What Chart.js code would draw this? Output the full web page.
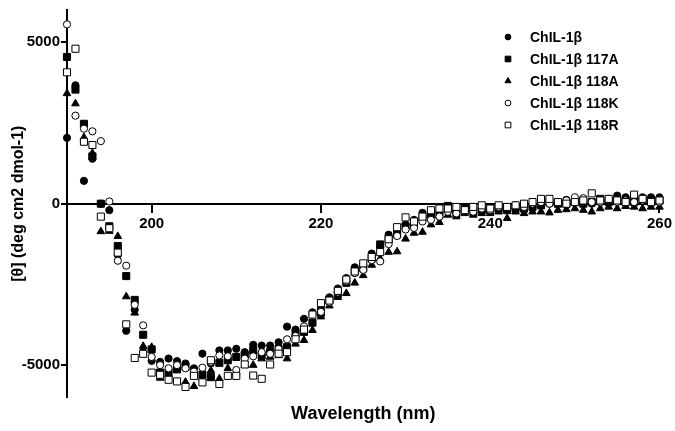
<!DOCTYPE html>
<html>
<head>
<meta charset="utf-8">
<script src="https://cdn.jsdelivr.net/npm/chart.js@4.4.1/dist/chart.umd.min.js"></script>
<style>
  body { margin: 0; background: #fff; }
  #wrap { width: 675px; height: 431px; }
</style>
</head>
<body>
<div id="wrap"><canvas id="cdChart"></canvas></div>
<script>
const wavelengths = [190, 191, 192, 193, 194, 195, 196, 197, 198, 199,
  200, 201, 202, 203, 204, 205, 206, 207, 208, 209,
  210, 211, 212, 213, 214, 215, 216, 217, 218, 219,
  220, 221, 222, 223, 224, 225, 226, 227, 228, 229,
  230, 231, 232, 233, 234, 235, 236, 237, 238, 239,
  240, 241, 242, 243, 244, 245, 246, 247, 248, 249,
  250, 251, 252, 253, 254, 255, 256, 257, 258, 259, 260];

const chil1b = [2040, 3666, 707, 1394, 0, -200, -1585, -3939, -3282, -4600,
  -4868, -4900, -4797, -4878, -4950, -5100, -4646, -4950, -4545, -4545,
  -4494, -4600, -4373, -4393, -4393, -4292, -3808, -3900, -3565, -3363,
  -3250, -2900, -2626, -2303, -1970, -1900, -1545, -1350, -960, -850,
  -650, -500, -283, -300, -250, -150, -250, -200, -100, -250,
  -200, -150, -150, -150, -100, -100, -50, 0, 50, 120,
  100, 50, 0, 50, 100, 250, 200, 150, 200, 200, 200];

const chil117A = [4545, 3535, 2475, 1465, 0, -700, -1313, -2242, -2980, -4060,
  -4515, -5230, -5232, -5131, -5050, -5270, -5300, -5373, -4929, -4850,
  -4747, -4697, -4550, -4697, -4595, -4500, -4444, -4020, -3970, -3686,
  -3380, -2980, -2800, -2450, -2100, -2000, -1700, -1262, -1100, -950,
  -700, -606, -450, -330, -350, -70, -300, -150, -250, -200,
  -200, -150, -200, -150, -150, -100, -50, 50, 0, 0,
  50, 0, 50, 150, 50, 100, 100, 50, 100, 100, 100];

const chil118A = [3414, 3100, 2050, 1565, -860, -850, -1010, -2878, -3383, -4414,
  -4444, -5400, -5300, -5150, -5525, -5656, -5400, -5170, -5424, -5100,
  -5232, -5000, -5000, -4800, -4750, -4700, -4800, -4343, -4230, -3919,
  -3500, -3161, -2900, -2777, -2454, -2222, -1900, -1700, -1500, -1485,
  -1090, -909, -879, -650, -576, -350, -400, -300, -350, -300,
  -300, -250, -454, -250, -300, -250, -250, -280, -200, -180,
  -150, -200, -250, -150, -100, -150, -80, -100, -150, -100, -100];

const chil118K = [5555, 2727, 2323, 2242, 1939, 70, -1767, -1919, -3131, -3767,
  -4747, -5000, -5100, -5000, -5100, -5200, -5080, -4900, -4700, -4727,
  -5151, -4800, -4727, -4600, -4650, -4500, -4200, -4100, -3800, -3434,
  -3350, -3050, -2750, -2400, -2150, -2050, -1750, -1788, -1250, -1000,
  -800, -750, -550, -500, -400, -250, -300, -200, -250, -150,
  -200, -100, -100, -50, -100, 0, 50, 0, 50, 100,
  200, 170, 50, 50, 150, 50, 100, 50, 100, 50, 50];

const chil118R = [4070, 4800, 1919, 1818, -400, -760, -1515, -3737, -4777, -4650,
  -5232, -5300, -5454, -5505, -5676, -5333, -5535, -4848, -5585, -5333,
  -5333, -4980, -5323, -5424, -4980, -4646, -4600, -4200, -3900, -3434,
  -3080, -3000, -2700, -2350, -2100, -1848, -1650, -1500, -1100, -727,
  -424, -550, -400, -202, -150, -150, -100, -200, -100, -50,
  -150, -50, -100, -50, 0, 50, 150, 150, 50, 0,
  50, 100, 320, 100, 150, 100, 50, 280, 150, 50, 100];

const seriesNames = ['ChIL-1\u03b2', 'ChIL-1\u03b2 117A', 'ChIL-1\u03b2 118A', 'ChIL-1\u03b2 118K', 'ChIL-1\u03b2 118R'];
const seriesValues = [chil1b, chil117A, chil118A, chil118K, chil118R];
const xTicks = [200, 220, 240, 260];
const yTicks = [-5000, 0, 5000];

const FONT = '"Liberation Sans", Arial, sans-serif';

// marker look for each series: filled circle, filled square, filled triangle, open circle, open square
const markers = [
  { style: 'circle', radius: 3.6, fill: '#000' },
  { style: 'rect', radius: 5, fill: '#000' },
  { style: 'triangle', radius: 4.4, fill: '#000' },
  { style: 'circle', radius: 3.6, fill: '#fff' },
  { style: 'rect', radius: 5, fill: '#fff' }
];

const datasets = seriesValues.map((vals, i) => ({
  label: seriesNames[i],
  data: wavelengths.map((w, j) => ({ x: w, y: vals[j] })),
  showLine: false,
  pointStyle: markers[i].style,
  pointRadius: markers[i].radius,
  pointBackgroundColor: markers[i].fill,
  pointBorderColor: '#000',
  pointBorderWidth: 1,
  order: seriesValues.length - i,
  clip: false
}));

function drawMarker(ctx, style, x, y, r, fill) {
  ctx.beginPath();
  if (style === 'circle') {
    ctx.arc(x, y, r, 0, Math.PI * 2);
  } else if (style === 'rect') {
    const s = r / Math.SQRT2;
    ctx.rect(x - s, y - s, s * 2, s * 2);
  } else {
    ctx.moveTo(x, y - r);
    ctx.lineTo(x + r * 0.866, y + r * 0.5);
    ctx.lineTo(x - r * 0.866, y + r * 0.5);
    ctx.closePath();
  }
  ctx.fillStyle = fill;
  ctx.fill();
  ctx.lineWidth = 1;
  ctx.strokeStyle = '#000';
  ctx.stroke();
}

const legendPlugin = {
  id: 'insideLegend',
  afterDraw(chart) {
    const ctx = chart.ctx;
    ctx.save();
    ctx.font = 'bold 14px ' + FONT;
    ctx.textBaseline = 'middle';
    seriesNames.forEach((name, i) => {
      const y = 37 + i * 22;
      const m = markers[i];
      drawMarker(ctx, m.style, 508, y, m.radius * 0.8, m.fill);
      ctx.fillStyle = '#000';
      ctx.fillText(name, 530, y + 1);
    });
    ctx.restore();
  }
};

new Chart(document.getElementById('cdChart'), {
  type: 'scatter',
  data: { datasets: datasets },
  plugins: [legendPlugin],
  options: {
    responsive: true,
    maintainAspectRatio: false,
    animation: false,
    layout: { padding: { top: 2, right: 15, left: 0, bottom: 0 } },
    plugins: {
      legend: { display: false },
      tooltip: { enabled: false },
      title: {
        display: true,
        position: 'bottom',
        fullSize: false,
        text: 'Wavelength (nm)',
        color: '#000',
        font: { family: FONT, size: 18, weight: 'bold' },
        padding: { top: 6, bottom: 6 }
      }
    },
    scales: {
      x: {
        type: 'linear',
        min: 190,
        max: 260,
        position: { y: 0 },
        afterBuildTicks: (scale) => { scale.ticks = xTicks.map(v => ({ value: v })); },
        border: { display: true, color: '#000', width: 2 },
        grid: { drawOnChartArea: false, drawTicks: true, tickLength: 8, color: '#000', lineWidth: 2 },
        ticks: { color: '#000', padding: 3, maxRotation: 0, callback: (v) => String(v), font: { family: FONT, size: 15, weight: 'bold' } }
      },
      y: {
        type: 'linear',
        min: -6000,
        max: 6000,
        afterBuildTicks: (scale) => { scale.ticks = yTicks.map(v => ({ value: v })); },
        afterFit: (scale) => { scale.width = 67; },
        border: { display: true, color: '#000', width: 2 },
        grid: { drawOnChartArea: false, drawTicks: true, tickLength: 6, color: '#000', lineWidth: 2 },
        ticks: { color: '#000', padding: 1, callback: (v) => String(v), font: { family: FONT, size: 15, weight: 'bold' } },
        title: {
          display: true,
          text: '[\u03b8] (deg cm2 dmol-1)',
          color: '#000',
          font: { family: FONT, size: 16, weight: 'bold' },
          padding: { top: 9, bottom: 0 }
        }
      }
    }
  }
});
</script>
</body>
</html>
